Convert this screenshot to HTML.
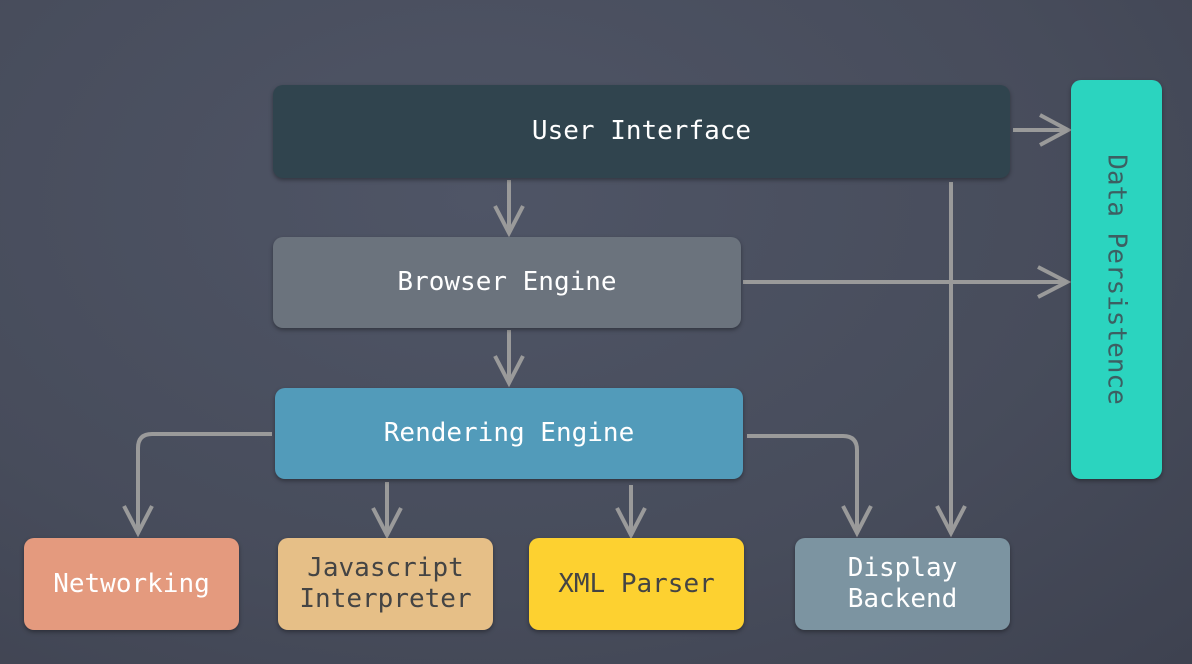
<!DOCTYPE html>
<html><head><style>
body{margin:0;width:1192px;height:664px;overflow:hidden;background:radial-gradient(ellipse at 40% 30%,#4f5566 0%,#474c5b 60%,#3e4250 100%);font-family:"DejaVu Sans Mono","Liberation Mono",monospace;}
.b{position:absolute;border-radius:10px;display:flex;align-items:center;justify-content:center;text-align:center;font-size:26px;line-height:31px;box-shadow:0 2px 4px rgba(0,0,0,.35);color:#fff}
svg{position:absolute;left:0;top:0}
</style></head><body>
<svg width="1192" height="664" fill="none" stroke="#9a9a9a" stroke-width="4">
<path d="M1013 130H1066M1040 115L1068 130L1040 145"/>
<path d="M509 180V233M495 206L509 233L523 206"/>
<path d="M743 282H1066M1038 267L1067 282L1038 297"/>
<path d="M951 182V533M937 506L951 533L965 506"/>
<path d="M509 330V383M495 356L509 383L523 356"/>
<path d="M272 434H152Q138 434 138 448V533M124 506L138 533L152 506"/>
<path d="M387 482V535M373 508L387 535L401 508"/>
<path d="M631 485V535M617 508L631 535L645 508"/>
<path d="M747 436H843Q857 436 857 450V533M843 506L857 533L871 506"/>
</svg>
<div class="b" style="left:273px;top:85px;width:737px;height:93px;background:#30444e">User Interface</div>
<div class="b" style="left:273px;top:237px;width:468px;height:91px;background:#6b737d">Browser Engine</div>
<div class="b" style="left:275px;top:388px;width:468px;height:91px;background:#529bba">Rendering Engine</div>
<div class="b" style="left:24px;top:538px;width:215px;height:92px;background:#e49a7e">Networking</div>
<div class="b" style="left:278px;top:538px;width:215px;height:92px;background:#e6bf87;color:#444">Javascript<br>Interpreter</div>
<div class="b" style="left:529px;top:538px;width:215px;height:92px;background:#fdd130;color:#444">XML Parser</div>
<div class="b" style="left:795px;top:538px;width:215px;height:92px;background:#7c94a1">Display<br>Backend</div>
<div class="b" style="left:1071px;top:80px;width:91px;height:399px;background:#2bd4bf;color:#3c5f62"><span style="display:inline-block;transform:rotate(90deg);white-space:nowrap">Data Persistence</span></div>
</body></html>
